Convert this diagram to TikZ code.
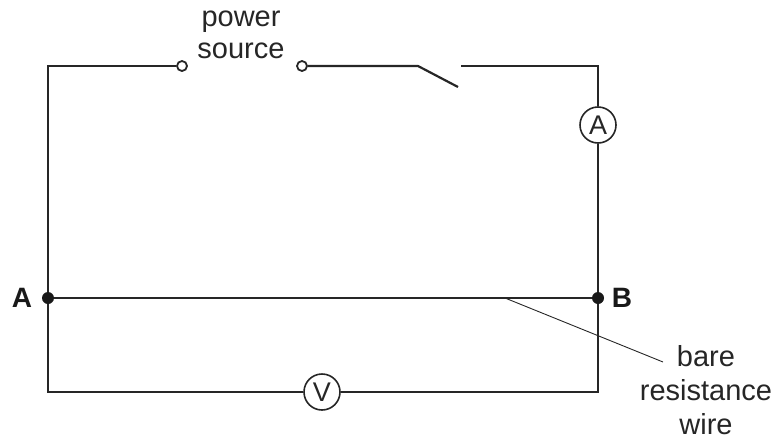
\documentclass[tikz,border=0pt]{standalone}
\usepackage{fontspec}
\setmainfont{Liberation Sans}
\begin{document}
\begin{tikzpicture}[x=1pt,y=-1pt,
  wire/.style={line width=2.2pt, draw=black!85},
  terminal/.style={circle, draw=black!85, line width=1.8pt, fill=white, minimum size=10pt, inner sep=0pt},
  meter/.style={circle, draw=black!85, line width=1.6pt, minimum size=36pt, inner sep=0pt, font=\fontsize{27}{30}\selectfont, text=black!85},
  junction/.style={circle, fill=black!90, minimum size=12pt, inner sep=0pt},
  lbl/.style={font=\fontsize{29}{32}\selectfont, text=black!85, align=center},
  bold/.style={font=\fontsize{28}{32}\selectfont\bfseries, text=black!90},
  pointer/.style={line width=0.9pt, draw=black!85}]
\useasboundingbox (0,0) rectangle (776,442);
\coordinate (tl) at (48,66);
\coordinate (tr) at (598,66);
\coordinate (bl) at (48,392);
\coordinate (br) at (598,392);
\coordinate (s1) at (418,66);
\coordinate (s2) at (458,87);
\coordinate (s3) at (461,66);
\coordinate (p1) at (505,298);
\coordinate (p2) at (663,362);
\node[terminal] (t1) at (182,66) {};
\node[terminal] (t2) at (302,66) {};
\node[meter] (am) at (598,125) {A};
\node[meter] (vm) at (322,392) {V};
\node[junction] (A) at (48,298) {};
\node[junction] (B) at (598,298) {};
\draw[wire] (t1.west) -- (tl) -- (A) -- (bl) -- (vm.west);
\draw[wire] (vm.east) -- (br) -- (B) -- (am.south);
\draw[wire] (am.north) -- (tr) -- (s3);
\draw[wire] (t2.east) -- (s1) -- (s2);
\draw[wire] (A) -- (B);
\draw[pointer] (p1) -- (p2);
\node[lbl] (ps) at (241,35) {power\\source};
\node[bold] (la) at (22,298) {A};
\node[bold] (lb) at (622,298) {B};
\node[lbl, font=\fontsize{29}{34}\selectfont] (bw) at (706,390) {bare\\resistance\\wire};
\end{tikzpicture}
\end{document}
